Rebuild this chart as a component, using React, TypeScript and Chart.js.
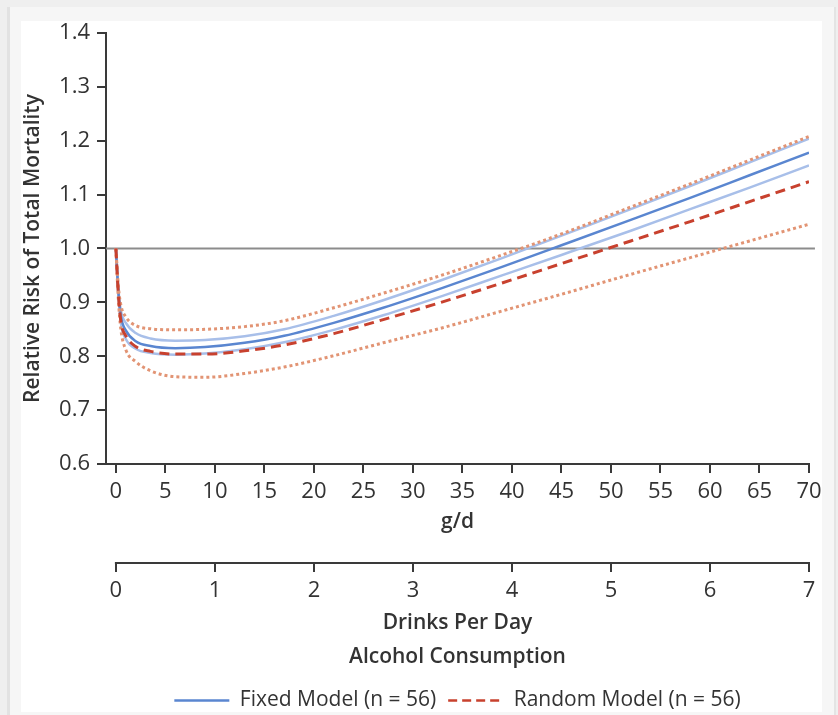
import React, { useEffect, useRef } from 'react';
import { Chart, registerables } from 'chart.js';

Chart.register(...registerables);

// Alcohol dose in grams per day
const gDoses = [0, 0.25, 0.5, 1, 2, 3.5, 6, 9, 13, 17, 22, 27, 33, 39, 45, 52, 58, 64, 70];

// Fixed model: relative risk and its confidence band
const fixedMean = [1.0, 0.92, 0.875, 0.848, 0.828, 0.819, 0.815, 0.817, 0.825, 0.838, 0.862, 0.890, 0.927, 0.966, 1.006, 1.053, 1.094, 1.136, 1.178];
const fixedUpper = [1.0, 0.925, 0.885, 0.862, 0.843, 0.833, 0.829, 0.830, 0.837, 0.850, 0.875, 0.904, 0.942, 0.982, 1.024, 1.073, 1.116, 1.160, 1.204];
const fixedLower = [1.0, 0.915, 0.862, 0.832, 0.814, 0.806, 0.803, 0.805, 0.813, 0.826, 0.849, 0.876, 0.912, 0.950, 0.988, 1.033, 1.073, 1.113, 1.154];

// Random model: relative risk and its confidence band
const randomMean = [1.0, 0.915, 0.865, 0.838, 0.818, 0.809, 0.804, 0.804, 0.810, 0.821, 0.842, 0.868, 0.901, 0.936, 0.972, 1.014, 1.050, 1.087, 1.124];
const randomUpper = [1.0, 0.93, 0.895, 0.873, 0.857, 0.851, 0.849, 0.850, 0.855, 0.866, 0.890, 0.917, 0.951, 0.988, 1.027, 1.077, 1.120, 1.164, 1.208];
const randomLower = [1.0, 0.905, 0.850, 0.812, 0.790, 0.773, 0.762, 0.761, 0.768, 0.780, 0.801, 0.825, 0.853, 0.884, 0.915, 0.952, 0.983, 1.014, 1.045];

// Reference line (RR = 1.0)
const refX = [-1, 70.6];
const refY = [1.0, 1.0];

// Tick labels
const gTicks = [0, 5, 10, 15, 20, 25, 30, 35, 40, 45, 50, 55, 60, 65, 70];
const drinkTicks = [0, 1, 2, 3, 4, 5, 6, 7];
const yTicks = [0.6, 0.7, 0.8, 0.9, 1.0, 1.1, 1.2, 1.3, 1.4];

const legendLabels = ['Fixed Model (n = 56)', 'Random Model (n = 56)'];

const FONT = "'Open Sans', sans-serif";
const AXIS = '#3a3a3a';
const TEXT = '#333333';
const BLUE = '#5a86d0';
const LIGHT_BLUE = '#a8bfe9';
const RED = '#c8412e';
const SALMON = '#e29474';
const GRAY = '#8c8c8c';

export default function App() {
  const ref = useRef<HTMLCanvasElement>(null);

  useEffect(() => {
    if (!ref.current) return;
    const pts = (xs: number[], ys: number[]) => xs.map((x, i) => ({ x, y: ys[i] }));
    const base = { pointRadius: 0, pointHoverRadius: 0, fill: false, cubicInterpolationMode: 'monotone' as const };

    const x2Line = {
      id: 'x2Line',
      afterDraw(chart: any) {
        const s = chart.scales.x2;
        const ctx = chart.ctx;
        ctx.save();
        ctx.strokeStyle = AXIS;
        ctx.lineWidth = 2;
        ctx.beginPath();
        const y = Math.round(s.top);
        ctx.moveTo(s.getPixelForValue(drinkTicks[0]) - 1, y);
        ctx.lineTo(s.getPixelForValue(drinkTicks[drinkTicks.length - 1]) + 1, y);
        ctx.stroke();
        ctx.restore();
      },
    };

    const tickFont = { family: FONT, size: 22 };
    const titleFont = { family: FONT, size: 21, weight: '600' as const };

    const chart = new Chart(ref.current, {
      type: 'line',
      data: {
        datasets: [
          { ...base, label: 'Random mean', data: pts(gDoses, randomMean), borderColor: RED, borderWidth: 3, borderDash: [10, 6] },
          { ...base, label: 'Random upper', data: pts(gDoses, randomUpper), borderColor: SALMON, borderWidth: 3, borderDash: [3, 3] },
          { ...base, label: 'Random lower', data: pts(gDoses, randomLower), borderColor: SALMON, borderWidth: 3, borderDash: [3, 3] },
          { ...base, label: 'Fixed mean', data: pts(gDoses, fixedMean), borderColor: BLUE, borderWidth: 2.5 },
          { ...base, label: 'Fixed upper', data: pts(gDoses, fixedUpper), borderColor: LIGHT_BLUE, borderWidth: 2.5 },
          { ...base, label: 'Fixed lower', data: pts(gDoses, fixedLower), borderColor: LIGHT_BLUE, borderWidth: 2.5 },
          { ...base, label: 'Reference', data: pts(refX, refY), borderColor: GRAY, borderWidth: 2, clip: false as any, cubicInterpolationMode: 'default' as const },
        ],
      },
      options: {
        animation: false,
        responsive: false,
        events: [],
        layout: { padding: { left: 0, top: 33, right: 29, bottom: -6 } },
        plugins: {
          tooltip: { enabled: false },
          legend: {
            position: 'bottom',
            fullSize: false,
            labels: {
              usePointStyle: true,
              pointStyleWidth: 55,
              padding: 12,
              color: TEXT,
              font: { family: FONT, size: 21 },
              generateLabels: () => [
                { text: legendLabels[0], strokeStyle: BLUE, fillStyle: 'rgba(0,0,0,0)', lineWidth: 2.5, lineDash: [], pointStyle: 'line', datasetIndex: 3, fontColor: TEXT } as any,
                { text: legendLabels[1], strokeStyle: RED, fillStyle: 'rgba(0,0,0,0)', lineWidth: 2.5, lineDash: [9, 5], pointStyle: 'line', datasetIndex: 0, fontColor: TEXT } as any,
              ],
            },
          },
        },
        scales: {
          x: {
            type: 'linear',
            position: 'bottom',
            min: -1,
            max: 70,
            afterBuildTicks: (s: any) => { s.ticks = gTicks.map((v) => ({ value: v })); },
            afterFit: (s: any) => { s.height = 99; },
            border: { display: true, color: AXIS, width: 2 },
            grid: { display: true, drawOnChartArea: false, drawTicks: true, tickLength: 9, color: AXIS, lineWidth: 2 },
            ticks: { font: tickFont, color: TEXT, padding: 6, maxRotation: 0, autoSkip: false },
            title: { display: true, text: 'g/d', font: titleFont, color: TEXT, padding: { top: 0, bottom: 28 } },
          },
          x2: {
            type: 'linear',
            position: 'bottom',
            min: -0.1,
            max: 7,
            afterBuildTicks: (s: any) => { s.ticks = drinkTicks.map((v) => ({ value: v })); },
            afterFit: (s: any) => { s.height = 115; },
            border: { display: false },
            grid: { display: true, drawOnChartArea: false, drawTicks: true, tickLength: 9, color: AXIS, lineWidth: 2 },
            ticks: { font: tickFont, color: TEXT, padding: 6, maxRotation: 0, autoSkip: false },
            title: {
              display: true,
              text: ['Drinks Per Day', 'Alcohol Consumption'],
              font: { ...titleFont, lineHeight: '34px' },
              color: TEXT,
              padding: { top: 0, bottom: 4 },
            },
          },
          y: {
            type: 'linear',
            min: 0.6,
            max: 1.4,
            afterBuildTicks: (s: any) => { s.ticks = yTicks.map((v) => ({ value: v })); },
            afterFit: (s: any) => { s.width = 106; },
            border: { display: true, color: AXIS, width: 2 },
            grid: { display: true, drawOnChartArea: false, drawTicks: true, tickLength: 9, color: AXIS, lineWidth: 2 },
            ticks: { font: tickFont, color: TEXT, padding: 7, callback: (v: any) => Number(v).toFixed(1) },
            title: { display: true, text: 'Relative Risk of Total Mortality', font: titleFont, color: TEXT, padding: { top: 20, bottom: 0 } },
          },
        },
      },
      plugins: [x2Line],
    });
    return () => chart.destroy();
  }, []);

  return (
    <div style={{ position: 'fixed', left: 0, top: 0, width: 838, height: 715, background: '#efefef', overflow: 'hidden' }}>
      <div style={{ position: 'absolute', left: 7, top: 7, width: 824, height: 720, background: '#f6f6f6', borderLeft: '3px solid #e2e2e2', borderRight: '2px solid #e4e4e4' }} />
      <div style={{ position: 'absolute', left: 21, top: 21, width: 801, height: 691, background: '#ffffff' }} />
      <canvas ref={ref} width={838} height={715} style={{ position: 'absolute', left: 0, top: 0, width: 838, height: 715 }} />
    </div>
  );
}
